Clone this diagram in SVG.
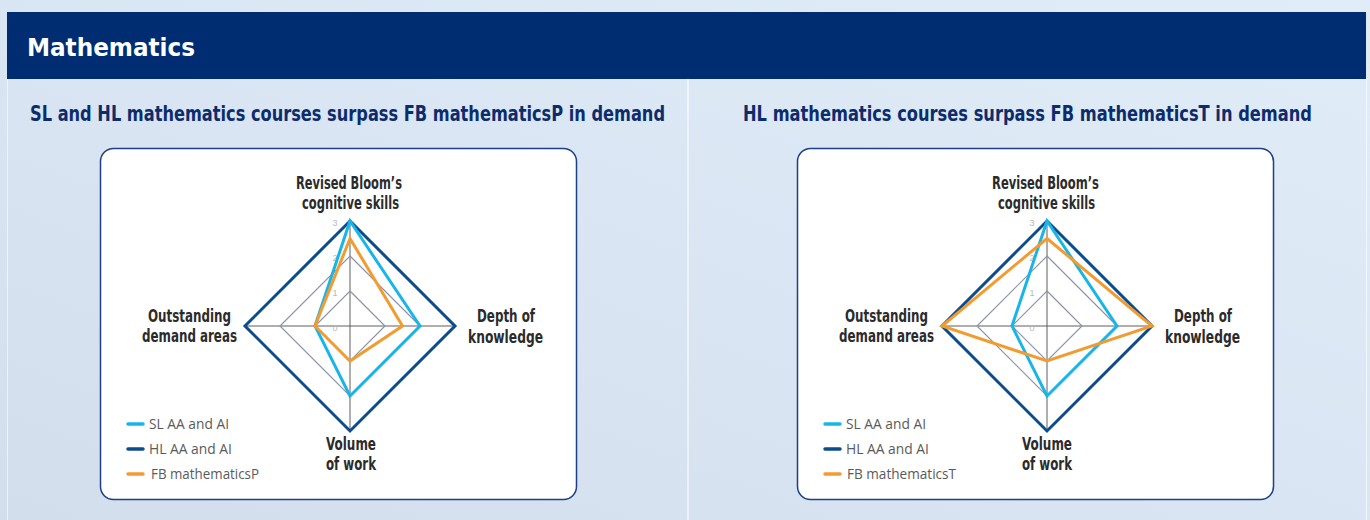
<svg xmlns="http://www.w3.org/2000/svg" width="1370" height="520" viewBox="0 0 1370 520">
<defs>
<linearGradient id="bg" x1="0" y1="1" x2="1" y2="0">
<stop offset="0" stop-color="#d3deed"/>
<stop offset="1" stop-color="#e0edf8"/>
</linearGradient>
<style>
.title{font-family:"DejaVu Sans Condensed","Liberation Sans",sans-serif;font-weight:bold;fill:#fff;font-size:25px}
.sub{font-family:"DejaVu Sans Condensed","Liberation Sans",sans-serif;font-weight:bold;fill:#0d2c6c;font-size:21px}
.card{fill:#fff;stroke:#1c3f86;stroke-width:1.5}
.ax{font-family:"DejaVu Sans Condensed","Liberation Sans",sans-serif;font-weight:bold;fill:#2b2b2b;font-size:17px}
.tick{font-family:"Liberation Sans","Open Sans",sans-serif;fill:#b8b8b8;font-size:9px;text-anchor:middle}
.leg{font-family:"Open Sans","Liberation Sans",sans-serif;fill:#5a5a5a;font-size:14px}
.axis{stroke:#5e5e5e;stroke-width:1;fill:none}
.ring{stroke:#8c93a8;stroke-width:1.2;fill:none}
.sl{stroke:#17b5e8;stroke-width:3;fill:none;stroke-linejoin:miter}
.hl{stroke:#0b4c8c;stroke-width:3;fill:none;stroke-linejoin:miter}
.fb{stroke:#f29b30;stroke-width:3;fill:none;stroke-linejoin:miter}
.legl{stroke-width:3.5;stroke-linecap:round}
</style>
</defs>
<rect x="0" y="0" width="1370" height="520" fill="url(#bg)"/>
<g id="header">
<rect x="7" y="12" width="1359" height="67" fill="#002d72"/>
<text class="title" x="27" y="56" textLength="168" lengthAdjust="spacingAndGlyphs">Mathematics</text>
</g>
<line x1="688" y1="79" x2="688" y2="520" stroke="#ffffff" stroke-width="1.2" opacity="0.9"/>
<line x1="7.5" y1="79" x2="7.5" y2="520" stroke="#ffffff" stroke-width="1" opacity="0.6"/>
<line x1="1366.5" y1="79" x2="1366.5" y2="520" stroke="#ffffff" stroke-width="1" opacity="0.6"/>

<g id="panel-left">
<text class="sub" transform="translate(30 121) scale(0.88 1)" x="0" y="0" textLength="721.6" lengthAdjust="spacingAndGlyphs">SL and HL mathematics courses surpass FB mathematicsP in demand</text>
<rect class="card" x="100.5" y="148.5" width="476" height="351" rx="13"/>
<g id="grid-left">
<line class="axis" x1="350" y1="221" x2="350" y2="431"/>
<line class="axis" x1="245" y1="326" x2="455" y2="326"/>
<polygon class="ring" points="350,291 385,326 350,361 315,326"/>
<polygon class="ring" points="350,256 420,326 350,396 280,326"/>
<text class="tick" x="335" y="226">3</text>
<text class="tick" x="335" y="261">2</text>
<text class="tick" x="335" y="296">1</text>
<text class="tick" x="335" y="331">0</text>
</g>
<g id="series-left">
<polygon class="hl" points="350,221 455,326 350,431 245,326"/>
<polygon class="sl" points="350,221 420,326 350,396 315,326"/>
<polygon class="fb" points="350,238.5 402.5,326 350,361 315,326"/>
</g>
<g id="labels-left">
<text class="ax" x="296" y="189" textLength="106" lengthAdjust="spacingAndGlyphs">Revised Bloom’s</text>
<text class="ax" x="302" y="209" textLength="97" lengthAdjust="spacingAndGlyphs">cognitive skills</text>
<text class="ax" x="477" y="322" textLength="58" lengthAdjust="spacingAndGlyphs">Depth of</text>
<text class="ax" x="468" y="343" textLength="75" lengthAdjust="spacingAndGlyphs">knowledge</text>
<text class="ax" x="148" y="322" textLength="83" lengthAdjust="spacingAndGlyphs">Outstanding</text>
<text class="ax" x="142" y="342" textLength="95" lengthAdjust="spacingAndGlyphs">demand areas</text>
<text class="ax" x="326" y="450" textLength="50" lengthAdjust="spacingAndGlyphs">Volume</text>
<text class="ax" x="326" y="470" textLength="50" lengthAdjust="spacingAndGlyphs">of work</text>
</g>
<g id="legend-left">
<line class="legl" x1="128" y1="424" x2="143" y2="424" stroke="#17b5e8"/>
<line class="legl" x1="128" y1="449" x2="143" y2="449" stroke="#0b4c8c"/>
<line class="legl" x1="128" y1="474" x2="143" y2="474" stroke="#f29b30"/>
<text class="leg" x="149" y="429" textLength="80" lengthAdjust="spacingAndGlyphs">SL AA and AI</text>
<text class="leg" x="149" y="454" textLength="83" lengthAdjust="spacingAndGlyphs">HL AA and AI</text>
<text class="leg" x="151" y="479" textLength="108" lengthAdjust="spacingAndGlyphs">FB mathematicsP</text>
</g>
</g>

<g id="panel-right">
<text class="sub" transform="translate(743 121) scale(0.88 1)" x="0" y="0" textLength="646.6" lengthAdjust="spacingAndGlyphs">HL mathematics courses surpass FB mathematicsT in demand</text>
<rect class="card" x="797.5" y="148.5" width="476" height="351" rx="13"/>
<g id="grid-right">
<line class="axis" x1="1047" y1="221" x2="1047" y2="431"/>
<line class="axis" x1="942" y1="326" x2="1152" y2="326"/>
<polygon class="ring" points="1047,291 1082,326 1047,361 1012,326"/>
<polygon class="ring" points="1047,256 1117,326 1047,396 977,326"/>
<text class="tick" x="1032" y="226">3</text>
<text class="tick" x="1032" y="261">2</text>
<text class="tick" x="1032" y="296">1</text>
<text class="tick" x="1032" y="331">0</text>
</g>
<g id="series-right">
<polygon class="hl" points="1047,221 1152,326 1047,431 942,326"/>
<polygon class="sl" points="1047,221 1117,326 1047,396 1012,326"/>
<polygon class="fb" points="1047,238.5 1152,326 1047,361 942,326"/>
</g>
<g id="labels-right">
<text class="ax" x="992" y="189" textLength="107" lengthAdjust="spacingAndGlyphs">Revised Bloom’s</text>
<text class="ax" x="998" y="209" textLength="97" lengthAdjust="spacingAndGlyphs">cognitive skills</text>
<text class="ax" x="1174" y="322" textLength="58" lengthAdjust="spacingAndGlyphs">Depth of</text>
<text class="ax" x="1165" y="343" textLength="75" lengthAdjust="spacingAndGlyphs">knowledge</text>
<text class="ax" x="845" y="322" textLength="83" lengthAdjust="spacingAndGlyphs">Outstanding</text>
<text class="ax" x="839" y="342" textLength="95" lengthAdjust="spacingAndGlyphs">demand areas</text>
<text class="ax" x="1022" y="450" textLength="50" lengthAdjust="spacingAndGlyphs">Volume</text>
<text class="ax" x="1022" y="470" textLength="50" lengthAdjust="spacingAndGlyphs">of work</text>
</g>
<g id="legend-right">
<line class="legl" x1="825" y1="424" x2="840" y2="424" stroke="#17b5e8"/>
<line class="legl" x1="825" y1="449" x2="840" y2="449" stroke="#0b4c8c"/>
<line class="legl" x1="825" y1="474" x2="840" y2="474" stroke="#f29b30"/>
<text class="leg" x="846" y="429" textLength="80" lengthAdjust="spacingAndGlyphs">SL AA and AI</text>
<text class="leg" x="846" y="454" textLength="83" lengthAdjust="spacingAndGlyphs">HL AA and AI</text>
<text class="leg" x="847" y="479" textLength="109" lengthAdjust="spacingAndGlyphs">FB mathematicsT</text>
</g>
</g>
</svg>
